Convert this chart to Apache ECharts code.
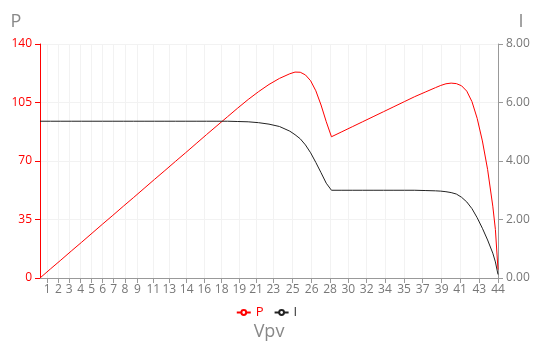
<!DOCTYPE html>
<html>
<head>
<meta charset="utf-8">
<script src="https://cdn.jsdelivr.net/npm/echarts@6/dist/echarts.min.js"></script>
<style>html,body{margin:0;padding:0;background:#fff;overflow:hidden;}#c{width:533px;height:343px;}</style>
</head>
<body>
<div id="c"></div>
<script>
const vpv = [0,1,2,3,4,5,6,7,8,9,10,11,12,13,14,15,16,17,18,19,20,21,22,23,24,24.5,25,25.5,26,26.5,27,27.5,28,29,30,31,32,33,34,35,36,37,38,38.5,39,39.5,40,40.5,41,41.5,42,42.5,43,43.5,43.75,44];
const pVals = [0,5.4,10.7,16.1,21.4,26.8,32.2,37.5,42.9,48.2,53.6,59,64.3,69.7,75,80.4,85.8,91.1,96.4,101.7,106.8,111.5,115.8,119.4,122.2,123.2,123.1,121.5,118,112,103.5,93.5,84.5,87.5,90.5,93.5,96.5,99.5,102.5,105.5,108.5,111.2,113.9,115.2,116.2,116.6,116.3,115,111.8,105.5,95.5,82,65,43,29,5];
const iVals = [5.36,5.36,5.36,5.36,5.36,5.36,5.36,5.36,5.36,5.36,5.36,5.36,5.36,5.36,5.36,5.36,5.36,5.36,5.36,5.35,5.34,5.31,5.26,5.18,5.02,4.9,4.76,4.55,4.28,3.95,3.6,3.24,3.0,3.0,3.0,3.0,3.0,3.0,3.0,3.0,3.0,2.99,2.98,2.97,2.95,2.92,2.87,2.76,2.6,2.37,2.06,1.7,1.3,0.85,0.55,0.12];
const xTickValues = [0.70,1.76,2.81,3.91,4.97,6.02,7.08,8.17,9.35,10.88,12.42,14.09,15.78,17.45,19.15,20.75,22.41,24.27,26.1,27.86,29.62,31.38,33.14,34.97,36.76,38.59,40.35,42.2,44];
const xTickLabels = ['1','2','3','4','5','6','7','8','9','11','13','14','16','18','19','21','23','25','26','28','30','32','34','35','37','39','41','43','44'];
const pTicks = {min:0,max:140,interval:35};
const iTicks = {min:0,max:8,interval:2};

const FONT = "'Open Sans', sans-serif";
const chart = echarts.init(document.getElementById('c'));
const pData = vpv.map((v,k)=>[v,pVals[k]]);
const iData = vpv.map((v,k)=>[v,iVals[k]]);
function labelFor(val){
  let best=0,bd=1e9;
  xTickValues.forEach((t,k)=>{const d=Math.abs(t-val); if(d<bd){bd=d;best=k;}});
  return xTickLabels[best];
}
chart.setOption({
  animation:false,
  textStyle:{fontFamily:FONT},
  grid:{left:40,width:458,top:44,height:234,containLabel:false,outerBoundsMode:'none'},
  legend:{
    top:301,left:'center',itemWidth:14,itemHeight:6,itemGap:10,
    textStyle:{fontSize:13,fontFamily:FONT},
    data:[{name:'P',textStyle:{color:'red'}},{name:'I',textStyle:{color:'#333'}}]
  },
  xAxis:{
    type:'value',min:0,max:44,
    name:'Vpv',nameLocation:'middle',nameGap:45,
    nameTextStyle:{color:'#888',fontSize:18,fontFamily:FONT},
    axisLine:{lineStyle:{color:'#999'}},
    axisTick:{show:true,customValues:xTickValues,lineStyle:{color:'#999'}},
    axisLabel:{customValues:xTickValues,formatter:labelFor,color:'#777',fontSize:12,margin:6,fontFamily:FONT},
    splitLine:{show:true,lineStyle:{color:'#f2f2f2'}}
  },
  yAxis:[
    {
      type:'value',min:pTicks.min,max:pTicks.max,interval:pTicks.interval,
      name:'P',nameLocation:'end',nameGap:13,
      nameTextStyle:{color:'#888',fontSize:18,align:'center',padding:[0,48,0,0],fontFamily:FONT},
      axisLine:{show:true,lineStyle:{color:'red'}},
      axisTick:{show:true,lineStyle:{color:'red'}},
      axisLabel:{color:'red',fontSize:12,fontFamily:FONT},
      splitLine:{show:true,lineStyle:{color:'#f2f2f2'}}
    },
    {
      type:'value',min:iTicks.min,max:iTicks.max,interval:iTicks.interval,position:'right',
      name:'I',nameLocation:'end',nameGap:13,
      nameTextStyle:{color:'#888',fontSize:18,align:'center',padding:[0,0,0,46],fontFamily:FONT},
      axisLine:{show:true,lineStyle:{color:'#999'}},
      axisTick:{show:true,lineStyle:{color:'#999'}},
      axisLabel:{color:'#777',fontSize:12,formatter:v=>v.toFixed(2),fontFamily:FONT},
      splitLine:{show:false}
    }
  ],
  series:[
    {name:'P',type:'line',yAxisIndex:0,data:pData,showSymbol:false,symbol:'emptyCircle',
     itemStyle:{color:'red'},lineStyle:{color:'red',width:1}},
    {name:'I',type:'line',yAxisIndex:1,data:iData,showSymbol:false,symbol:'emptyCircle',
     itemStyle:{color:'#222'},lineStyle:{color:'#222',width:1}}
  ]
});
</script>
</body>
</html>
